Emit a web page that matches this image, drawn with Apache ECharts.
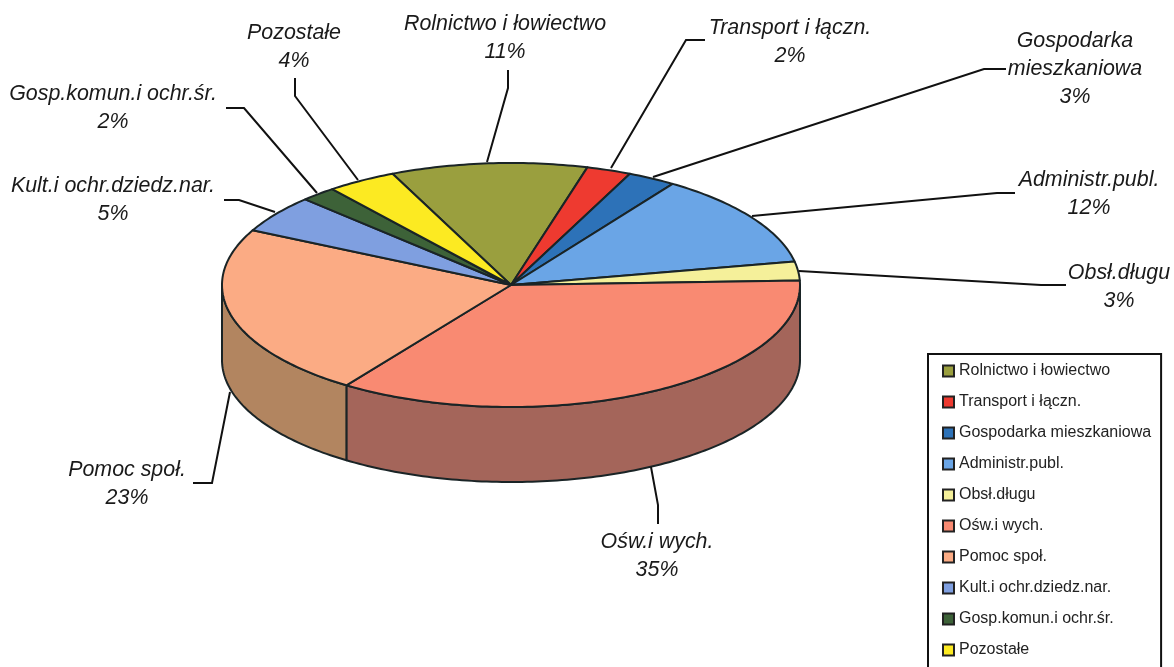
<!DOCTYPE html>
<html>
<head>
<meta charset="utf-8">
<style>
  html, body { margin: 0; padding: 0; background: #fff; }
  #chart { width: 1174px; height: 667px; }
</style>
<script src="https://cdn.jsdelivr.net/npm/echarts@6/dist/echarts.min.js"></script>
</head>
<body>
<div id="chart"></div>
<script>
// data
const categories = ['Rolnictwo i łowiectwo', 'Transport i łączn.', 'Gospodarka mieszkaniowa', 'Administr.publ.', 'Obsł.długu', 'Ośw.i wych.', 'Pomoc społ.', 'Kult.i ochr.dziedz.nar.', 'Gosp.komun.i ochr.śr.', 'Pozostałe'];
const values = [11, 2.5, 2.7, 12.5, 2.5, 35.3, 22.8, 5, 2, 3.9];
const percentLabels = ['11%', '2%', '3%', '12%', '3%', '35%', '23%', '5%', '2%', '4%'];
const sliceLabels = ['Rolnictwo i łowiectwo', 'Transport i łączn.', 'Gospodarka\nmieszkaniowa', 'Administr.publ.', 'Obsł.długu', 'Ośw.i wych.', 'Pomoc społ.', 'Kult.i ochr.dziedz.nar.', 'Gosp.komun.i ochr.śr.', 'Pozostałe'];

// styles
const topColors = ['#9a9f3e', '#ee3a30', '#2d72b8', '#6aa5e6', '#f5f09a', '#f98a72', '#fbab84', '#7f9fe0', '#3d6238', '#fcea22'];
const sideColors = ['#6b6f2b', '#a62921', '#1f5081', '#4a73a1', '#acA86c', '#a4655a', '#b28560', '#59709d', '#2b4527', '#b0a418'];
const lineColor = '#1a2426';

// layout of the pie (ellipse in pixels)
const cx = 511, cy = 285, rx = 289, ry = 122, depth = 75;
const startAngle = 114.2;

// label centres and leader lines, same order as categories
const labelPos = [[505, 38], [790, 42], [1075, 69], [1089, 194], [1119, 287], [657, 556], [127, 484], [113, 200], [113, 108], [294, 47]];
const leaders = [
  [[487, 162], [508, 88], [508, 70]],
  [[611, 168], [686, 40], [705, 40]],
  [[653, 177], [984, 69], [1006, 69]],
  [[752, 216], [997, 193], [1015, 193]],
  [[799, 271], [1041, 285], [1066, 285]],
  [[651, 467], [658, 505], [658, 524]],
  [[230, 392], [212, 483], [193, 483]],
  [[275, 212], [239, 200], [224, 200]],
  [[317, 193], [244, 108], [226, 108]],
  [[358, 180], [295, 96], [295, 78]]
];

const total = values.reduce((a, b) => a + b, 0);

function pt(deg, dy) {
  let r = deg * Math.PI / 180;
  return [cx + rx * Math.cos(r), cy - ry * Math.sin(r) + (dy || 0)];
}

function arc(from, to, dy) {
  let pts = [];
  let n = Math.max(2, Math.ceil(Math.abs(from - to)));
  for (let k = 0; k <= n; k++) {
    pts.push(pt(from + (to - from) * k / n, dy));
  }
  return pts;
}

function sliceAngles(idx) {
  let before = 0;
  for (let i = 0; i < idx; i++) before += values[i];
  let t0 = startAngle - before / total * 360;
  let t1 = t0 - values[idx] / total * 360;
  return [t0, t1];
}

function makeRender(idx) {
  return function () {
    let [t0, t1] = sliceAngles(idx);
    let children = [];
    // only the front half of the wall is visible
    let a = Math.min(t0, 0), b = Math.max(t1, -180);
    if (a > b) {
      let wall = arc(a, b, 0).concat(arc(b, a, depth));
      children.push({
        type: 'polygon',
        shape: { points: wall },
        style: { fill: sideColors[idx], stroke: lineColor, lineWidth: 2, lineJoin: 'round' }
      });
    }
    children.push({
      type: 'polygon',
      shape: { points: [[cx, cy]].concat(arc(t0, t1, 0)) },
      style: { fill: topColors[idx], stroke: lineColor, lineWidth: 2, lineJoin: 'round' }
    });
    children.push({
      type: 'polyline',
      shape: { points: leaders[idx] },
      style: { fill: null, stroke: '#111', lineWidth: 2 }
    });
    children.push({
      type: 'text',
      style: {
        x: labelPos[idx][0],
        y: labelPos[idx][1],
        text: sliceLabels[idx] + '\n' + percentLabels[idx],
        textAlign: 'center',
        textVerticalAlign: 'middle',
        font: 'italic 21.4px "Liberation Sans", Arial, sans-serif',
        lineHeight: 28,
        fill: '#1a1a1a'
      }
    });
    return { type: 'group', children: children };
  };
}

let myChart = echarts.init(document.getElementById('chart'));
let option = {
  backgroundColor: '#fff',
  animation: false,
  color: topColors,
  legend: {
    orient: 'vertical',
    left: 928,
    top: 354,
    height: 360,
    data: categories,
    icon: 'rect',
    itemWidth: 11,
    itemHeight: 11,
    itemGap: 15,
    selectedMode: false,
    padding: [9, 10, 40, 14],
    backgroundColor: '#fff',
    borderColor: '#111',
    borderWidth: 2,
    itemStyle: { borderColor: '#222', borderWidth: 2 },
    textStyle: { color: '#222', fontSize: 16, fontFamily: '"Liberation Sans", Arial, sans-serif' }
  },
  series: categories.map((name, i) => ({
    type: 'custom',
    name: name,
    coordinateSystem: 'none',
    silent: true,
    data: [[values[i]]],
    renderItem: makeRender(i)
  }))
};
option && myChart.setOption(option);
</script>
</body>
</html>
